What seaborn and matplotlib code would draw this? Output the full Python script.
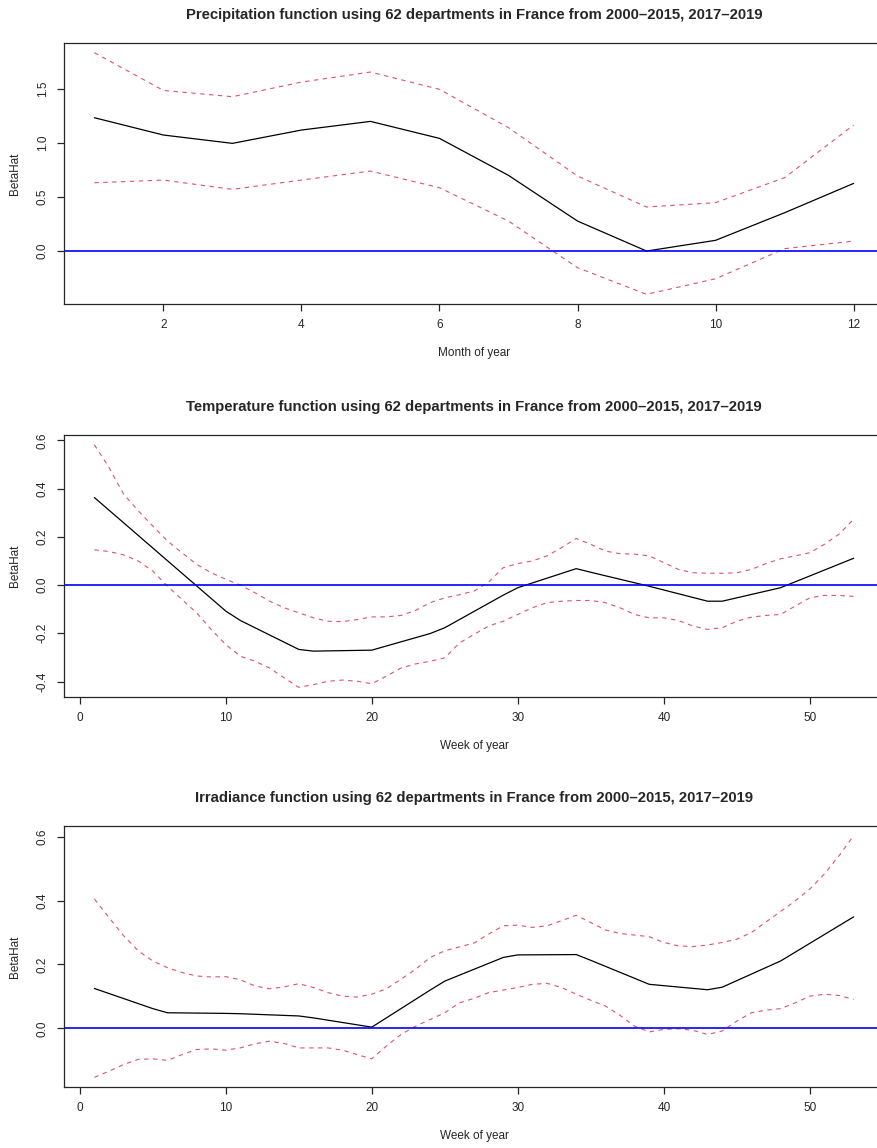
import seaborn as sns
import matplotlib
matplotlib.use('Agg')
import matplotlib.pyplot as plt
from matplotlib.ticker import FormatStrFormatter

sns.set_style('ticks')
plt.rcParams['font.family'] = ['Liberation Sans', 'DejaVu Sans']

RED = '#DF536B'

# --- precipitation (monthly) ---
months = list(range(1, 13))
prec_fit = [1.232, 1.072, 0.995, 1.118, 1.198, 1.041, 0.699, 0.277, 0.0, 0.099, 0.354, 0.625]
prec_upper = [1.833, 1.484, 1.426, 1.561, 1.654, 1.494, 1.140, 0.693, 0.407, 0.447, 0.678, 1.164]
prec_lower = [0.631, 0.656, 0.570, 0.656, 0.739, 0.585, 0.277, -0.154, -0.400, -0.256, 0.022, 0.092]

# --- temperature (weekly) ---
weeks = list(range(1, 54))
temp_knots = [1, 10, 11, 15, 16, 20, 24, 25, 29, 30, 34, 35, 39, 43, 44, 48, 53]
temp_fit = [0.363, -0.108, -0.147, -0.267, -0.274, -0.270, -0.201, -0.177, -0.042, -0.011,
            0.068, 0.053, -0.005, -0.067, -0.067, -0.011, 0.111]
temp_upper = [0.582, 0.488, 0.377, 0.308, 0.245, 0.183, 0.134, 0.086, 0.051, 0.024,
              0.0, -0.032, -0.067, -0.094, -0.115, -0.136, -0.150, -0.152, -0.143, -0.132,
              -0.132, -0.126, -0.105, -0.073, -0.053, -0.040, -0.025, 0.012, 0.072, 0.089,
              0.100, 0.121, 0.155, 0.193, 0.169, 0.141, 0.130, 0.128, 0.121, 0.093,
              0.065, 0.051, 0.049, 0.049, 0.051, 0.065, 0.089, 0.109, 0.121, 0.134,
              0.169, 0.211, 0.273]
temp_lower = [0.146, 0.139, 0.125, 0.100, 0.058, -0.004, -0.060, -0.115, -0.184, -0.247,
              -0.295, -0.316, -0.344, -0.385, -0.424, -0.413, -0.399, -0.394, -0.399, -0.409,
              -0.378, -0.344, -0.327, -0.316, -0.302, -0.240, -0.205, -0.170, -0.150, -0.122,
              -0.094, -0.073, -0.067, -0.064, -0.064, -0.073, -0.094, -0.122, -0.136, -0.136,
              -0.147, -0.170, -0.184, -0.177, -0.150, -0.133, -0.126, -0.122, -0.087, -0.053,
              -0.043, -0.043, -0.047]

# --- irradiance (weekly) ---
irr_knots = [1, 5, 6, 10, 11, 15, 16, 20, 24, 25, 29, 30, 34, 35, 39, 43, 44, 48, 53]
irr_fit = [0.125, 0.062, 0.049, 0.047, 0.046, 0.039, 0.033, 0.004, 0.120, 0.148,
           0.222, 0.230, 0.231, 0.213, 0.138, 0.121, 0.129, 0.211, 0.349]
irr_upper = [0.405, 0.347, 0.290, 0.243, 0.211, 0.190, 0.175, 0.164, 0.161, 0.162,
             0.152, 0.133, 0.124, 0.130, 0.140, 0.128, 0.112, 0.101, 0.098, 0.107,
             0.124, 0.154, 0.185, 0.222, 0.243, 0.255, 0.267, 0.295, 0.321, 0.323,
             0.316, 0.321, 0.337, 0.354, 0.331, 0.308, 0.297, 0.292, 0.287, 0.269,
             0.258, 0.256, 0.261, 0.269, 0.279, 0.300, 0.333, 0.366, 0.399, 0.436,
             0.483, 0.540, 0.603]
irr_lower = [-0.153, -0.134, -0.113, -0.097, -0.095, -0.100, -0.082, -0.066, -0.064, -0.068,
             -0.061, -0.048, -0.040, -0.047, -0.061, -0.061, -0.061, -0.068, -0.082, -0.095,
             -0.055, -0.019, 0.007, 0.028, 0.049, 0.080, 0.094, 0.112, 0.120, 0.128,
             0.138, 0.141, 0.128, 0.107, 0.088, 0.070, 0.041, 0.007, -0.011, -0.003,
             -0.001, -0.006, -0.019, -0.008, 0.023, 0.049, 0.057, 0.062, 0.080, 0.101,
             0.107, 0.103, 0.091]

suffix = ' function using 62 departments in France from 2000\u20132015, 2017\u20132019'


def draw_panel(ax, xfit, fit, xband, upper, lower, title, xlabel, xticks, yticks):
    sns.lineplot(x=xband, y=upper, ax=ax, color=RED, lw=0.8)
    ax.lines[-1].set_dashes((4, 4))
    sns.lineplot(x=xband, y=lower, ax=ax, color=RED, lw=0.8)
    ax.lines[-1].set_dashes((4, 4))
    sns.lineplot(x=xfit, y=fit, ax=ax, color='black', lw=0.9)
    ax.axhline(0, color='#0000FF', lw=1.2)
    ax.margins(x=0.04, y=0.04)
    ax.set_xticks(xticks)
    ax.set_yticks(yticks)
    ax.yaxis.set_major_formatter(FormatStrFormatter('%.1f'))
    ax.tick_params(axis='both', length=5, width=0.9, labelsize=8.5, pad=6)
    ax.tick_params(axis='y', labelrotation=90)
    for lab in ax.get_yticklabels():
        lab.set_va('center')
    for sp in ax.spines.values():
        sp.set_linewidth(0.9)
        sp.set_visible(True)
    ax.set_title(title, fontsize=10.7, fontweight='bold', pad=17)
    ax.set_xlabel(xlabel, fontsize=8.5, labelpad=11)
    ax.set_ylabel('BetaHat', fontsize=8.5, labelpad=11)


fig = plt.figure(figsize=(8.78, 11.48), dpi=100)
W = 820 / 878
ax1 = fig.add_axes([64 / 878, 1 - 304 / 1148, W, 261 / 1148])
ax2 = fig.add_axes([64 / 878, 1 - 697 / 1148, W, 262 / 1148])
ax3 = fig.add_axes([64 / 878, 1 - 1087 / 1148, W, 261 / 1148])

draw_panel(ax1, months, prec_fit, months, prec_upper, prec_lower,
           'Precipitation' + suffix, 'Month of year',
           [2, 4, 6, 8, 10, 12], [0.0, 0.5, 1.0, 1.5])
draw_panel(ax2, temp_knots, temp_fit, weeks, temp_upper, temp_lower,
           'Temperature' + suffix, 'Week of year',
           [0, 10, 20, 30, 40, 50], [-0.4, -0.2, 0.0, 0.2, 0.4, 0.6])
draw_panel(ax3, irr_knots, irr_fit, weeks, irr_upper, irr_lower,
           'Irradiance' + suffix, 'Week of year',
           [0, 10, 20, 30, 40, 50], [0.0, 0.2, 0.4, 0.6])

fig.savefig('out.png', dpi=100)
